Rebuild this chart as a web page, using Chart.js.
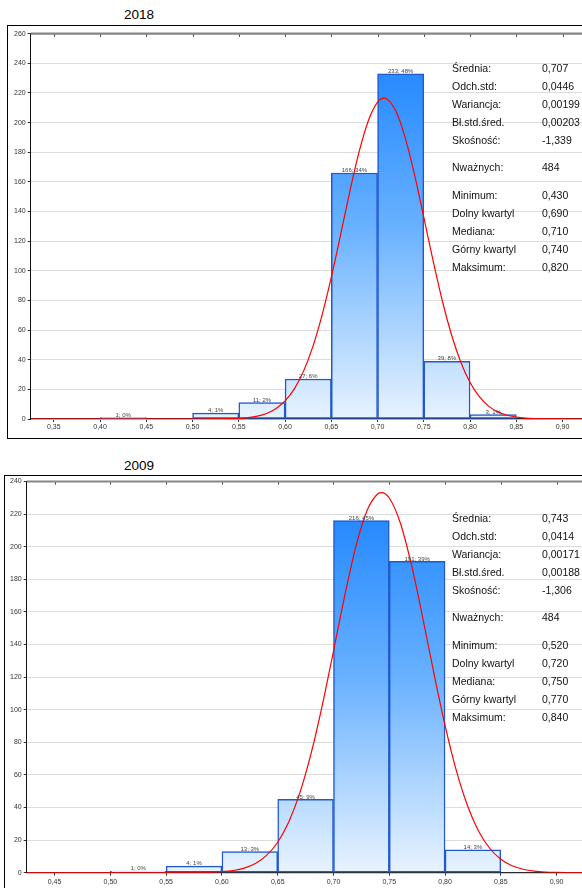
<!DOCTYPE html>
<html lang="pl">
<head>
    <meta charset="UTF-8">
    <title>Histogramy 2018 / 2009</title>
    <style>
        html, body {
            margin: 0;
            padding: 0;
            background: #fff;
            overflow: hidden;
            width: 582px;
            height: 888px;
            font-family: Arial, "Liberation Sans", sans-serif;
        }

        .title {
            position: absolute;
            width: 100px;
            text-align: center;
            font-size: 13.5px;
            line-height: 16px;
            color: #000;
        }

        .frame {
            position: absolute;
            border: 1px solid #000;
            box-sizing: border-box;
        }

        canvas {
            position: absolute;
            display: block;
        }

        .stat {
            position: absolute;
            font-size: 10.5px;
            line-height: 14px;
            color: #111;
            white-space: nowrap;
        }
    </style>
</head>
<body>
<div class="title" style="left:89px; top:7px;">2018</div>
<div class="frame" style="left:7px; top:25px; width:640px; height:414px;"></div>
<canvas id="hist2018" width="590" height="412" style="left:8px; top:26px;"></canvas>

<div class="title" style="left:89px; top:458px;">2009</div>
<div class="frame" style="left:4px; top:475px; width:640px; height:440px;"></div>
<canvas id="hist2009" width="590" height="412" style="left:5px; top:476px;"></canvas>

<div id="stats"></div>

<script src="https://cdn.jsdelivr.net/npm/chart.js"></script>
<script>
    // ---- 2018 ----
    var binCenters2018 = [0.425, 0.525, 0.575, 0.625, 0.675, 0.725, 0.775, 0.825];
    var counts2018 = [1, 4, 11, 27, 166, 233, 39, 3];
    var percents2018 = [0, 1, 2, 6, 34, 48, 8, 1];
    var curveX2018 = [0.325, 0.50, 0.51, 0.52, 0.53, 0.54, 0.55, 0.56, 0.57, 0.58, 0.59, 0.60, 0.61, 0.62, 0.63, 0.64,
        0.65, 0.66, 0.67, 0.68, 0.69, 0.70, 0.707, 0.71, 0.72, 0.73, 0.74, 0.75, 0.76, 0.77, 0.78, 0.79, 0.80,
        0.81, 0.82, 0.83, 0.84, 0.85, 0.86, 0.87, 0.88, 0.89, 0.90, 0.925];
    var curveY2018 = [0, 0, 0, 0.03, 0.08, 0.2, 0.44, 0.95, 1.93, 3.75, 6.94, 12.2, 20.3, 32.3, 48.8, 70.1,
        95.7, 124.2, 153.5, 180.2, 201.3, 213.9, 216.5, 216.0, 207.5, 189.5, 164.7, 136.0, 106.9, 79.8, 56.7, 38.3, 24.6,
        15.1, 8.7, 4.8, 2.5, 1.3, 0.6, 0.27, 0.12, 0.05, 0.02, 0];
    var xTicks2018 = [0.35, 0.40, 0.45, 0.50, 0.55, 0.60, 0.65, 0.70, 0.75, 0.80, 0.85, 0.90];
    var yTicks2018 = [0, 20, 40, 60, 80, 100, 120, 140, 160, 180, 200, 220, 240, 260];
    var stats2018 = ["0,707", "0,0446", "0,00199", "0,00203", "-1,339", "484", "0,430", "0,690", "0,710", "0,740", "0,820"];

    // ---- 2009 ----
    var binCenters2009 = [0.525, 0.575, 0.625, 0.675, 0.725, 0.775, 0.825];
    var counts2009 = [1, 4, 13, 45, 216, 191, 14];
    var percents2009 = [0, 1, 3, 9, 45, 39, 3];
    var curveX2009 = [0.425, 0.55, 0.56, 0.57, 0.58, 0.59, 0.60, 0.61, 0.62, 0.63, 0.64, 0.65, 0.66, 0.67, 0.68,
        0.69, 0.70, 0.71, 0.72, 0.73, 0.74, 0.743, 0.75, 0.76, 0.77, 0.78, 0.79, 0.80, 0.81, 0.82, 0.83, 0.84,
        0.85, 0.86, 0.87, 0.88, 0.89, 0.90, 0.91, 0.92, 0.925];
    var curveY2009 = [0, 0, 0.01, 0.04, 0.10, 0.25, 0.60, 1.34, 2.82, 5.62, 10.6, 18.7, 31.3, 49.3, 73.3,
        102.8, 136.0, 169.7, 199.9, 222.0, 232.6, 233.2, 229.9, 214.4, 188.5, 156.4, 122.4, 90.4, 62.9, 41.4, 25.6, 15.0,
        8.3, 4.3, 2.1, 0.98, 0.43, 0.18, 0.07, 0.02, 0];
    var xTicks2009 = [0.45, 0.50, 0.55, 0.60, 0.65, 0.70, 0.75, 0.80, 0.85, 0.90];
    var yTicks2009 = [0, 20, 40, 60, 80, 100, 120, 140, 160, 180, 200, 220, 240];
    var stats2009 = ["0,743", "0,0414", "0,00171", "0,00188", "-1,306", "484", "0,520", "0,720", "0,750", "0,770", "0,840"];

    var statLabels = ["Średnia:", "Odch.std:", "Wariancja:", "Bł.std.śred.", "Skośność:", "Nważnych:",
        "Minimum:", "Dolny kwartyl", "Mediana:", "Górny kwartyl", "Maksimum:"];
    var statRowOffsets = [0, 18, 36, 54, 72, 99, 126.4, 144.4, 162.4, 180.4, 198.4];

    function buildStats(values, firstRowCenter) {
        var box = document.getElementById("stats");
        statLabels.forEach(function (label, i) {
            var top = firstRowCenter + statRowOffsets[i] - 7;
            var l = document.createElement("div");
            l.className = "stat";
            l.style.left = "452px";
            l.style.top = top + "px";
            l.textContent = label;
            box.appendChild(l);
            var v = document.createElement("div");
            v.className = "stat";
            v.style.left = "542px";
            v.style.top = top + "px";
            v.textContent = values[i];
            box.appendChild(v);
        });
    }

    // gray line along the top of the plot, with small tick marks
    var frameDecor = {
        id: "frameDecor",
        afterDraw: function (chart) {
            var ctx = chart.ctx;
            var a = chart.chartArea;
            var xs = chart.scales.x;
            ctx.save();
            ctx.strokeStyle = "#858585";
            ctx.lineWidth = 2.2;
            ctx.beginPath();
            ctx.moveTo(a.left, a.top);
            ctx.lineTo(a.right + 20, a.top);
            ctx.stroke();
            ctx.strokeStyle = "#333";
            ctx.lineWidth = 1;
            xs.ticks.forEach(function (t) {
                var px = Math.round(xs.getPixelForValue(t.value)) + 0.5;
                ctx.beginPath();
                ctx.moveTo(px, a.top + 1);
                ctx.lineTo(px, a.top + 3);
                ctx.stroke();
            });
            ctx.restore();
        }
    };

    var barLabels = {
        id: "barLabels",
        afterDatasetsDraw: function (chart) {
            var ctx = chart.ctx;
            var meta = chart.getDatasetMeta(0);
            var labels = chart.data.datasets[0].barText;
            ctx.save();
            ctx.font = "6px Arial, 'Liberation Sans', sans-serif";
            ctx.fillStyle = "#444";
            ctx.textAlign = "center";
            ctx.textBaseline = "bottom";
            meta.data.forEach(function (bar, i) {
                ctx.fillText(labels[i], bar.x, bar.y + 0.5);
            });
            ctx.restore();
        }
    };

    function barGradient(context) {
        var chart = context.chart;
        var a = chart.chartArea;
        if (!a) {
            return "#6db4ff";
        }
        var g = chart.ctx.createLinearGradient(0, a.top, 0, a.bottom);
        g.addColorStop(0, "#1680ff");
        g.addColorStop(0.5, "#68b1ff");
        g.addColorStop(1, "#e8f3fe");
        return g;
    }

    function fmt(v) {
        return v.toFixed(2).replace(".", ",");
    }

    function makeHistogram(id, d) {
        var bars = d.centers.map(function (c, i) {
            return {x: c, y: d.counts[i]};
        });
        var curve = d.curveX.map(function (x, i) {
            return {x: x, y: d.curveY[i]};
        });
        var texts = d.counts.map(function (c, i) {
            return c + "; " + d.percents[i] + "%";
        });
        var tickFont = {family: "Arial, 'Liberation Sans', sans-serif", size: 7, lineHeight: 1};

        return new Chart(document.getElementById(id).getContext("2d"), {
            type: "bar",
            data: {
                datasets: [{
                    type: "bar",
                    data: bars,
                    barText: texts,
                    backgroundColor: barGradient,
                    borderColor: "#2158d0",
                    borderWidth: 1.5,
                    borderSkipped: false,
                    barPercentage: 1,
                    categoryPercentage: 1,
                    order: 1
                }, {
                    type: "line",
                    data: curve,
                    borderColor: "#ff0000",
                    borderWidth: 1.2,
                    pointRadius: 0,
                    cubicInterpolationMode: "monotone",
                    fill: false,
                    order: 0
                }]
            },
            options: {
                responsive: false,
                animation: false,
                devicePixelRatio: 1,
                layout: {padding: {top: d.padTop, right: d.padRight, left: 0, bottom: 0}},
                plugins: {
                    legend: {display: false},
                    tooltip: {enabled: false}
                },
                scales: {
                    x: {
                        type: "linear",
                        min: d.xMin,
                        max: d.xMax,
                        offset: false,
                        afterBuildTicks: function (axis) {
                            axis.ticks = d.xTicks.map(function (v) {
                                return {value: v};
                            });
                        },
                        afterFit: function (axis) {
                            axis.height = d.xHeight;
                        },
                        ticks: {
                            font: tickFont,
                            color: "#333",
                            padding: d.xPad,
                            maxRotation: 0,
                            autoSkip: false,
                            callback: function (v) {
                                return fmt(v);
                            }
                        },
                        grid: {
                            offset: false,
                            drawOnChartArea: false,
                            tickLength: 3,
                            tickColor: "#333"
                        },
                        border: {color: "#2a2a2a", width: 1.2}
                    },
                    y: {
                        min: 0,
                        max: d.yTicks[d.yTicks.length - 1],
                        afterBuildTicks: function (axis) {
                            axis.ticks = d.yTicks.map(function (v) {
                                return {value: v};
                            });
                        },
                        afterFit: function (axis) {
                            axis.width = d.yWidth;
                        },
                        ticks: {
                            font: tickFont,
                            color: "#333",
                            padding: 2
                        },
                        grid: {
                            color: "#dcdcdc",
                            tickLength: 3,
                            tickColor: "#333"
                        },
                        border: {color: "#111", width: 1}
                    }
                }
            },
            plugins: [barLabels, frameDecor]
        });
    }

    makeHistogram("hist2018", {
        centers: binCenters2018, counts: counts2018, percents: percents2018,
        curveX: curveX2018, curveY: curveY2018, xTicks: xTicks2018, yTicks: yTicks2018,
        xMin: 0.325, xMax: 0.925, padTop: 7.7, padRight: 12.3, yWidth: 22.7, xHeight: 19, xPad: 2
    });

    makeHistogram("hist2009", {
        centers: binCenters2009, counts: counts2009, percents: percents2009,
        curveX: curveX2009, curveY: curveY2009, xTicks: xTicks2009, yTicks: yTicks2009,
        xMin: 0.425, xMax: 0.925, padTop: 4.7, padRight: 10.5, yWidth: 21.7, xHeight: 15.3, xPad: 3
    });

    buildStats(stats2018, 68.3);
    buildStats(stats2009, 518.3);
</script>
</body>
</html>
